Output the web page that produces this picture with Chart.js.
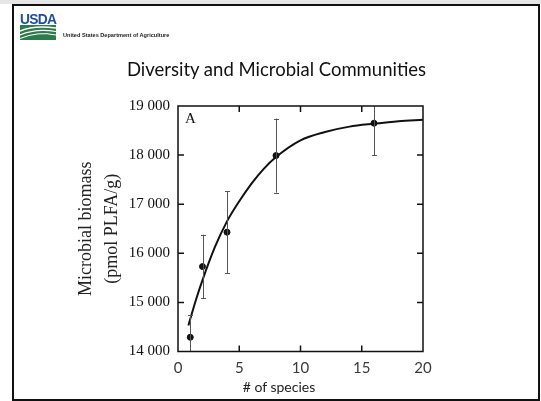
<!DOCTYPE html>
<html>
<head>
<meta charset="utf-8">
<script src="https://cdn.jsdelivr.net/npm/chart.js@4/dist/chart.umd.min.js"></script>
<style>
  html, body { margin: 0; padding: 0; background: #ffffff; }
  #wrap { position: relative; width: 541px; height: 401px; overflow: hidden; background: #fff; }
  #c { position: absolute; left: 0; top: 0; }
  #frame { position: absolute; left: 12px; top: 4px; width: 528px; height: 397px; border: 2px solid #111; box-sizing: border-box; pointer-events: none; }
  #topband { position: absolute; left: 0; top: 0; width: 541px; height: 4px; background: #e6e6e6; }
  #usda { position: absolute; left: 20px; top: 10px; font-family: "Liberation Sans", Arial, sans-serif; font-weight: bold; font-size: 15px; color: #1f4f9c; letter-spacing: -0.8px; transform: scaleX(0.92); transform-origin: left top; }
  #swoosh { position: absolute; left: 20px; top: 25px; }
  #dept { position: absolute; left: 63px; top: 32px; font-family: "Liberation Sans", Arial, sans-serif; font-weight: bold; font-size: 5.6px; color: #222; white-space: nowrap; }
  #title { position: absolute; left: 0; width: 553px; top: 58px; text-align: center; font-family: Lato, "Open Sans", sans-serif; font-size: 18.5px; color: #111; white-space: nowrap; }
  #xtitle { position: absolute; left: 229px; width: 100px; top: 378px; text-align: center; font-family: Lato, "Open Sans", sans-serif; font-size: 14px; color: #222; white-space: nowrap; }
</style>
</head>
<body>
<div id="wrap">
  <canvas id="c" width="541" height="401"></canvas>
  <div id="topband"></div>
  <div id="frame"></div>
  <div id="usda">USDA</div>
  <svg id="swoosh" width="36" height="15" viewBox="0 0 36 15">
    <rect x="0" y="0" width="36" height="15" fill="#2f7a4a"/>
    <path d="M0 6 Q14 0 36 3" stroke="#ffffff" stroke-width="1.4" fill="none"/>
    <path d="M0 10 Q16 3 36 6.5" stroke="#ffffff" stroke-width="1.2" fill="none"/>
    <path d="M0 13.5 Q18 6 36 10" stroke="#ffffff" stroke-width="1" fill="none"/>
  </svg>
  <div id="dept">United States Department of Agriculture</div>
  <div id="title">Diversity and Microbial Communities</div>
  <div id="xtitle"># of species</div>
</div>
<script>
// ---- data ----
const species = [1, 2, 4, 8, 16];
const biomass = [14290, 15730, 16430, 17990, 18650];
const biomassErr = [450, 650, 830, 755, 650];

const fitX = [0.85, 1, 1.5, 2, 3, 4, 5, 6, 7, 8, 10, 12, 14, 16, 18, 20];
const fitY = [14530, 14660, 15080, 15455, 16120, 16650, 17060, 17420, 17720, 17960, 18300, 18470, 18580, 18640, 18690, 18720];

const xTicks = [0, 5, 10, 15, 20];
const yTicks = [14000, 15000, 16000, 17000, 18000, 19000];
const panelLabel = 'A';

function fmtThousands(v) {
  const s = String(Math.round(v));
  return s.replace(/\B(?=(\d{3})+(?!\d))/g, ' ');
}

const boxPlugin = {
  id: 'boxTicks',
  afterDatasetsDraw(chart) {
    const ctx = chart.ctx;
    const a = chart.chartArea;
    const xs = chart.scales.x, ys = chart.scales.y;
    ctx.save();
    ctx.beginPath();
    ctx.rect(a.left, a.top, a.right - a.left, a.bottom - a.top);
    ctx.clip();
    ctx.strokeStyle = '#555';
    ctx.lineWidth = 1;
    for (let i = 0; i < species.length; i++) {
      const px = Math.round(xs.getPixelForValue(species[i])) + 0.5;
      const yT = ys.getPixelForValue(biomass[i] + biomassErr[i]);
      const yB = ys.getPixelForValue(biomass[i] - biomassErr[i]);
      ctx.beginPath();
      ctx.moveTo(px, yT); ctx.lineTo(px, yB);
      ctx.moveTo(px - 2.5, Math.round(yT) + 0.5); ctx.lineTo(px + 2.5, Math.round(yT) + 0.5);
      ctx.moveTo(px - 2.5, Math.round(yB) + 0.5); ctx.lineTo(px + 2.5, Math.round(yB) + 0.5);
      ctx.stroke();
    }
    ctx.restore();

    ctx.save();
    ctx.strokeStyle = '#111';
    ctx.lineWidth = 1.5;
    ctx.strokeRect(a.left, a.top, a.right - a.left, a.bottom - a.top);
    const tl = 6;
    ctx.beginPath();
    xTicks.forEach(v => {
      if (v === xs.min || v === xs.max) return;
      const px = xs.getPixelForValue(v);
      ctx.moveTo(px, a.bottom); ctx.lineTo(px, a.bottom - tl);
      ctx.moveTo(px, a.top); ctx.lineTo(px, a.top + tl);
    });
    yTicks.forEach(v => {
      if (v === ys.min || v === ys.max) return;
      const py = ys.getPixelForValue(v);
      ctx.moveTo(a.left, py); ctx.lineTo(a.left + tl, py);
      ctx.moveTo(a.right, py); ctx.lineTo(a.right - tl, py);
    });
    ctx.stroke();
    ctx.fillStyle = '#111';
    ctx.font = '15px "Liberation Serif", "Times New Roman", serif';
    ctx.textBaseline = 'top';
    ctx.fillText(panelLabel, a.left + 7, a.top + 6);
    ctx.restore();
  }
};

const chart = new Chart(document.getElementById('c'), {
  type: 'scatter',
  data: {
    datasets: [
      {
        type: 'line',
        data: fitX.map((x, i) => ({ x: x, y: fitY[i] })),
        borderColor: '#111',
        borderWidth: 2,
        pointRadius: 0,
        cubicInterpolationMode: 'monotone',
        fill: false
      },
      {
        type: 'scatter',
        data: species.map((x, i) => ({ x: x, y: biomass[i] })),
        backgroundColor: '#111',
        borderColor: '#111',
        pointRadius: 3
      }
    ]
  },
  options: {
    responsive: false,
    animation: false,
    devicePixelRatio: 1,
    layout: { padding: { left: 74, top: 106, right: 118, bottom: 0 } },
    plugins: { legend: { display: false }, tooltip: { enabled: false } },
    scales: {
      x: {
        type: 'linear', min: 0, max: 20,
        afterBuildTicks(scale) { scale.ticks = xTicks.map(v => ({ value: v })); },
        afterFit(scale) { scale.height = 49.5; },
        grid: { display: false, drawTicks: false },
        border: { display: false },
        ticks: { padding: 8, color: '#3a3a3a', maxRotation: 0, minRotation: 0, autoSkip: false, font: { family: 'Lato', size: 15 } }
      },
      y: {
        type: 'linear', min: 14000, max: 19000,
        afterBuildTicks(scale) { scale.ticks = yTicks.map(v => ({ value: v })); },
        afterFit(scale) { scale.width = 104; },
        grid: { display: false, drawTicks: false },
        border: { display: false },
        ticks: {
          padding: 8, color: '#111', autoSkip: false,
          font: { family: '"Liberation Serif"', size: 15 },
          callback: v => fmtThousands(v)
        },
        title: {
          display: true,
          text: ['Microbial biomass', '(pmol PLFA/g)'],
          color: '#222',
          font: { family: '"Liberation Serif"', size: 18, lineHeight: 1.4 },
          padding: 0
        }
      }
    }
  },
  plugins: [boxPlugin]
});
</script>
</body>
</html>
